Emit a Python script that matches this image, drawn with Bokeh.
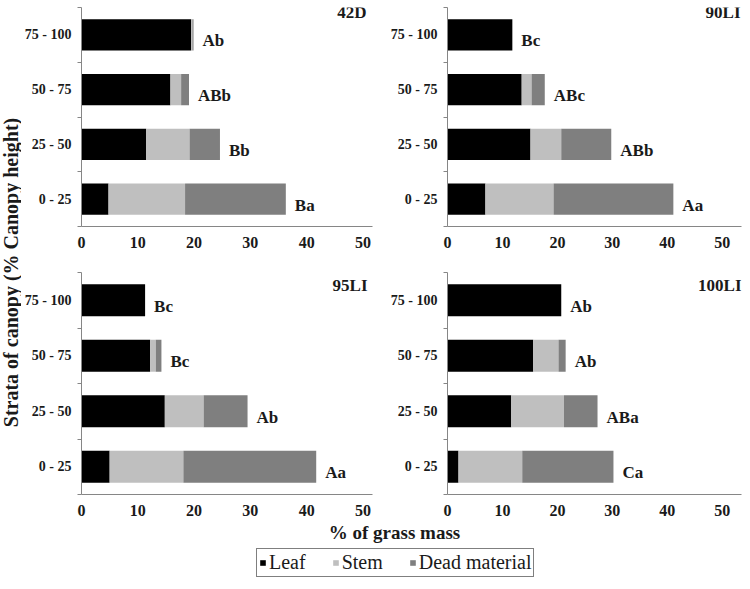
import math
from bokeh.plotting import figure
from bokeh.models import ColumnDataSource, Range1d, FixedTicker, Label, Legend, LegendItem
from bokeh.layouts import row, column
from bokeh.core.properties import value
from bokeh.embed import file_html
from bokeh.resources import INLINE

# ---------------- data ----------------
strata = ["0 - 25", "25 - 50", "50 - 75", "75 - 100"]
x_ticks = [0, 10, 20, 30, 40, 50]
components = ["Leaf", "Stem", "Dead material"]

leaf_42D = [4.8, 11.5, 15.8, 19.5]
stem_42D = [13.6, 7.7, 1.9, 0.2]
dead_42D = [17.9, 5.4, 1.4, 0.2]
letters_42D = ["Ba", "Bb", "ABb", "Ab"]

leaf_90LI = [6.9, 15.1, 13.5, 11.8]
stem_90LI = [12.4, 5.6, 1.8, 0.0]
dead_90LI = [21.8, 9.1, 2.4, 0.0]
letters_90LI = ["Aa", "ABb", "ABc", "Bc"]

leaf_95LI = [5.0, 14.8, 12.2, 11.3]
stem_95LI = [13.1, 6.9, 1.0, 0.0]
dead_95LI = [23.6, 7.8, 1.0, 0.0]
letters_95LI = ["Aa", "Ab", "Bc", "Bc"]

leaf_100LI = [2.0, 11.6, 15.6, 20.7]
stem_100LI = [11.6, 9.6, 4.6, 0.0]
dead_100LI = [16.6, 6.1, 1.3, 0.0]
letters_100LI = ["Ca", "ABa", "Ab", "Ab"]

# ---------------- styles ----------------
COLORS = ["#000000", "#bfbfbf", "#7f7f7f"]
FONT = "Liberation Serif"
TXT = "#1a1a1a"
AXIS = "#868686"


def make_panel(name, leaf, stem, dead, letters, width, height,
               mb_left, mb_right, mb_top, mb_bottom, xmax,
               t_dx, t_dy):
    y = [i + 0.5 for i in range(len(strata))]
    total = [a + b + c for a, b, c in zip(leaf, stem, dead)]
    src = ColumnDataSource(dict(y=y, leaf=leaf, stem=stem, dead=dead,
                                total=total, letter=letters))
    p = figure(width=width, height=height,
               x_range=Range1d(0, xmax), y_range=Range1d(0, len(strata)),
               output_backend="svg", toolbar_location=None,
               min_border_left=mb_left, min_border_right=mb_right,
               min_border_top=mb_top, min_border_bottom=mb_bottom)
    p.outline_line_color = None
    p.xgrid.visible = False
    p.ygrid.visible = False

    p.hbar_stack(["leaf", "stem", "dead"], y="y", height=0.575,
                 color=COLORS, line_color=None, source=src)

    p.text(x="total", y="y", text="letter", source=src,
           x_offset=9, y_offset=6, text_baseline="middle", text_align="left",
           text_font=value(FONT), text_font_style="bold",
           text_font_size="17px", text_color=TXT)

    p.add_layout(Label(x=xmax, y=len(strata), text=name,
                       x_offset=t_dx, y_offset=t_dy,
                       text_align="right", text_baseline="top",
                       text_font=FONT, text_font_style="bold",
                       text_font_size="17px", text_color=TXT))

    for ax in (p.xaxis[0], p.yaxis[0]):
        ax.axis_line_color = AXIS
        ax.axis_line_width = 1
        ax.major_tick_out = 0
        ax.major_tick_in = 0
        ax.minor_tick_in = 0
        ax.major_label_text_font = FONT
        ax.major_label_text_font_style = "bold"
        ax.major_label_text_color = TXT

    p.xaxis.ticker = FixedTicker(ticks=x_ticks)
    p.xaxis.minor_tick_out = 0
    p.xaxis.major_label_standoff = 10
    p.xaxis.major_label_text_font_size = "16px"

    p.yaxis.ticker = FixedTicker(ticks=y, minor_ticks=list(range(len(strata) + 1)))
    p.yaxis.major_label_overrides = {yy: s for yy, s in zip(y, strata)}
    p.yaxis.minor_tick_out = 4
    p.yaxis.minor_tick_line_color = AXIS
    p.yaxis.major_label_standoff = 6
    p.yaxis.major_label_text_font_size = "14px"
    return p


TOP_H, BOT_H = 262, 261
TW, LEFT_W, RIGHT_W = 21, 354, 373

p1 = make_panel("42D", leaf_42D, stem_42D, dead_42D, letters_42D,
                LEFT_W, TOP_H, 60, 3, 3, 36, 51.7, -6, 5)
p2 = make_panel("90LI", leaf_90LI, stem_90LI, dead_90LI, letters_90LI,
                RIGHT_W, TOP_H, 72, 7, 7, 30, 53.5, -1, 5)
p3 = make_panel("95LI", leaf_95LI, stem_95LI, dead_95LI, letters_95LI,
                LEFT_W, BOT_H, 60, 3, 10, 29, 51.7, -5, -3)
p4 = make_panel("100LI", leaf_100LI, stem_100LI, dead_100LI, letters_100LI,
                RIGHT_W, BOT_H, 72, 7, 10, 29, 53.5, 0, -3)

# y-axis title column
tf = figure(width=TW, height=TOP_H + BOT_H, x_range=Range1d(0, TW),
            y_range=Range1d(0, TOP_H + BOT_H), min_border=0,
            x_axis_location=None, y_axis_location=None,
            output_backend="svg", toolbar_location=None)
tf.outline_line_color = None
tf.xgrid.visible = False
tf.ygrid.visible = False
tf.add_layout(Label(x=10.5, y=TOP_H + BOT_H - 272, text="Strata of canopy (% Canopy height)",
                    angle=math.pi / 2, text_align="center", text_baseline="middle",
                    text_font=FONT, text_font_style="bold",
                    text_font_size="20px", text_color=TXT))

# bottom strip: x title + legend
LW, LH = TW + LEFT_W + RIGHT_W, 62
lf = figure(width=LW, height=LH, x_range=Range1d(0, LW), y_range=Range1d(0, LH),
            min_border=0, x_axis_location=None, y_axis_location=None,
            output_backend="svg", toolbar_location=None)
lf.outline_line_color = None
lf.xgrid.visible = False
lf.ygrid.visible = False
lf.add_layout(Label(x=394, y=LH - 9, text="% of grass mass",
                    text_align="center", text_baseline="middle",
                    text_font=FONT, text_font_style="bold",
                    text_font_size="19px", text_color=TXT))

items = []
for comp, col in zip(components, COLORS):
    r = lf.hbar(y=[float("nan")], left=[0], right=[1], height=1,
                fill_color=col, line_color=None)
    items.append(LegendItem(label=comp, renderers=[r]))
legend = Legend(items=items, orientation="horizontal", location=(256, 8),
                glyph_width=7, glyph_height=7, label_standoff=3, spacing=26,
                padding=2, margin=0, label_height=18,
                label_text_font=FONT, label_text_font_size="20px",
                label_text_color=TXT, border_line_color="black",
                border_line_width=1.5, background_fill_color="white",
                background_fill_alpha=1.0)
lf.add_layout(legend)

layout = column(row(tf, column(row(p1, p2), row(p3, p4))), lf)

open("out.html", "w").write(file_html(layout, INLINE))
